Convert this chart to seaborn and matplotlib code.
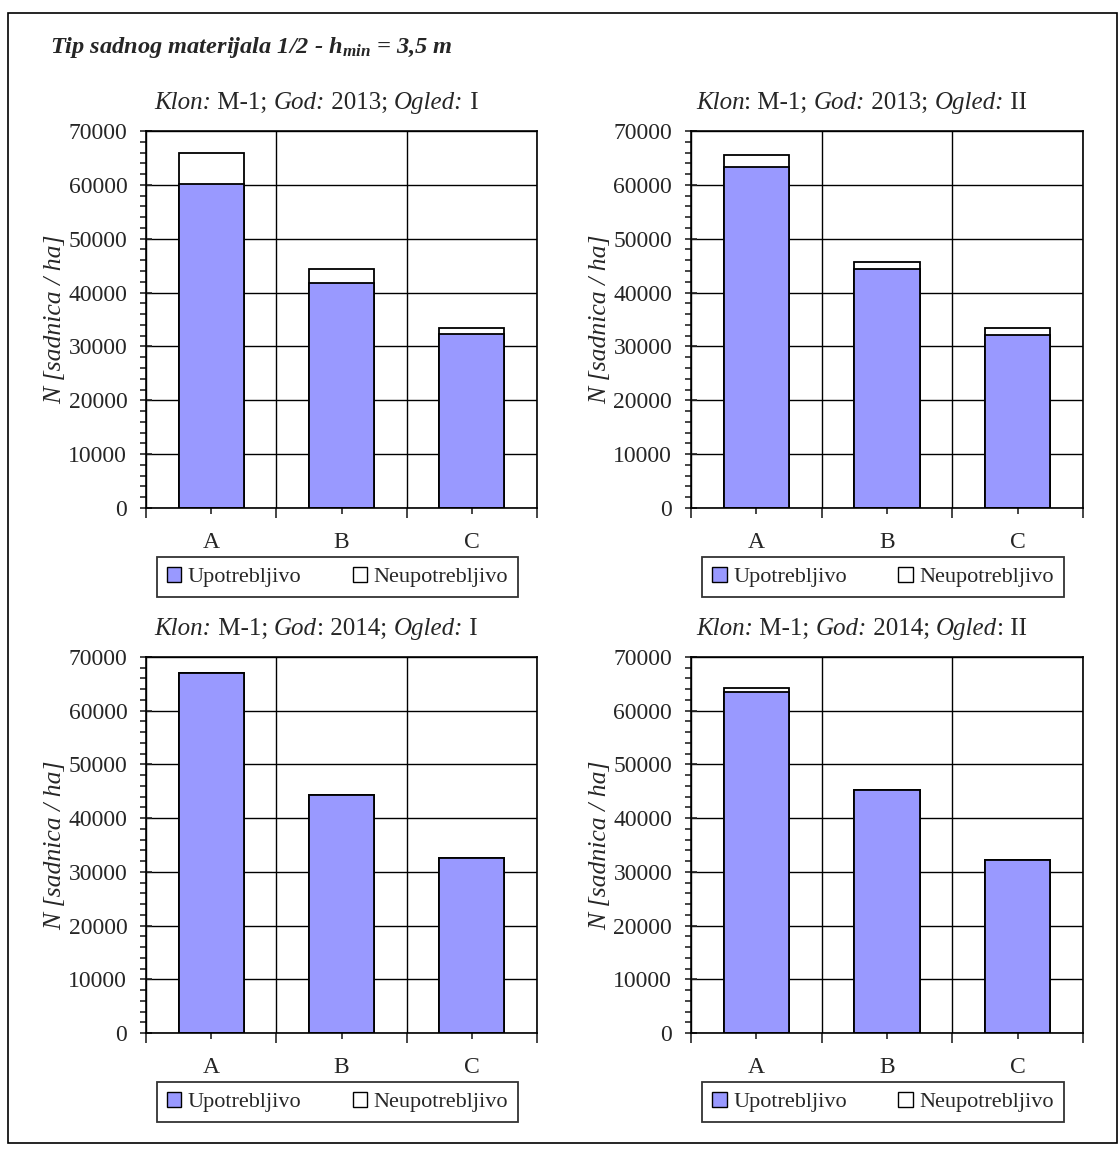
# Stacked bar charts - usable vs unusable seedlings
import numpy as np
import pandas as pd
import matplotlib
matplotlib.use("Agg")
import matplotlib.pyplot as plt
from matplotlib.patches import Rectangle, Patch
from matplotlib.ticker import MultipleLocator, FixedLocator
from matplotlib.offsetbox import TextArea, HPacker, AnchoredOffsetbox
import seaborn as sns

# Data
kategorije = ["A", "B", "C"]

upotrebljivo_2013_I = [60200, 41700, 32400]
neupotrebljivo_2013_I = [5700, 2600, 1100]

upotrebljivo_2013_II = [63400, 44300, 32100]
neupotrebljivo_2013_II = [2200, 1400, 1400]

upotrebljivo_2014_I = [67000, 44400, 32600]
neupotrebljivo_2014_I = [0, 0, 0]

upotrebljivo_2014_II = [63400, 45200, 32300]
neupotrebljivo_2014_II = [800, 0, 0]

# title pieces: (text, italic?)
naslovi = [
    [("Klon:", True), (" M-1; ", False), ("God:", True), (" 2013; ", False),
     ("Ogled:", True), (" I", False)],
    [("Klon", True), (": M-1; ", False), ("God:", True), (" 2013; ", False),
     ("Ogled:", True), (" II", False)],
    [("Klon:", True), (" M-1; ", False), ("God", True), (": 2014; ", False),
     ("Ogled:", True), (" I", False)],
    [("Klon:", True), (" M-1; ", False), ("God:", True), (" 2014; ", False),
     ("Ogled", True), (": II", False)],
]

# Style
sns.set_style("ticks")
plt.rcParams["font.family"] = ["Liberation Serif", "DejaVu Serif"]
plt.rcParams["mathtext.fontset"] = "custom"
plt.rcParams["mathtext.rm"] = "Liberation Serif:italic:bold"
plt.rcParams["mathtext.it"] = "Liberation Serif:italic:bold"
plt.rcParams["mathtext.bf"] = "Liberation Serif:italic:bold"

PLAVA = "#9999FF"

fig = plt.figure(figsize=(11.19, 11.55), dpi=100)

# outer frame
fig.patches.append(Rectangle((8 / 1119, 1 - 1143 / 1155), 1109 / 1119, 1130 / 1155,
                             transform=fig.transFigure, fill=False,
                             edgecolor="black", linewidth=1.2))

fig.text(50 / 1119, 1 - 48 / 1155,
         r"Tip sadnog materijala 1/2 - h$_{\mathbf{min}}$ = 3,5 m",
         fontsize=17.6, fontweight="bold", style="italic", va="center", ha="left")

pozicije = [
    [146 / 1119, 1 - 508 / 1155, 391 / 1119, 377 / 1155],
    [691 / 1119, 1 - 508 / 1155, 392 / 1119, 377 / 1155],
    [146 / 1119, 1 - 1033 / 1155, 391 / 1119, 376 / 1155],
    [691 / 1119, 1 - 1033 / 1155, 392 / 1119, 376 / 1155],
]
legend_y = [1 - 577 / 1155, 1 - 577 / 1155, 1 - 1102 / 1155, 1 - 1102 / 1155]

serije = [
    (upotrebljivo_2013_I, neupotrebljivo_2013_I),
    (upotrebljivo_2013_II, neupotrebljivo_2013_II),
    (upotrebljivo_2014_I, neupotrebljivo_2014_I),
    (upotrebljivo_2014_II, neupotrebljivo_2014_II),
]

for i, (upo, neupo) in enumerate(serije):
    ax = fig.add_axes(pozicije[i])
    df = pd.DataFrame({"Kategorija": kategorije,
                       "Upotrebljivo": upo,
                       "Neupotrebljivo": neupo})
    df["Ukupno"] = df["Upotrebljivo"] + df["Neupotrebljivo"]

    ax.set_axisbelow(True)
    sns.barplot(data=df, x="Kategorija", y="Ukupno", color="white",
                edgecolor="black", linewidth=1.3, width=0.5, saturation=1, ax=ax)
    sns.barplot(data=df, x="Kategorija", y="Upotrebljivo", color=PLAVA,
                edgecolor="black", linewidth=1.3, width=0.5, saturation=1, ax=ax)

    ax.set_xlim(-0.5, 2.5)
    ax.set_ylim(0, 70000)
    ax.yaxis.set_major_locator(MultipleLocator(10000))
    ax.yaxis.set_minor_locator(MultipleLocator(2000))
    ax.xaxis.set_minor_locator(FixedLocator([-0.5, 0.5, 1.5, 2.5]))

    ax.grid(axis="y", which="major", color="black", linewidth=1)
    ax.grid(axis="x", which="minor", color="black", linewidth=1)

    ax.tick_params(axis="y", which="major", direction="inout", length=9,
                   width=1.2, labelsize=17, pad=9)
    ax.tick_params(axis="y", which="minor", direction="out", length=4, width=1.2)
    ax.tick_params(axis="x", which="major", direction="out", length=4,
                   width=1.2, labelsize=17, pad=13)
    ax.tick_params(axis="x", which="minor", direction="out", length=7, width=1.2)

    for s in ax.spines.values():
        s.set_linewidth(1.2)
        s.set_color("black")

    ax.set_xlabel("")
    ax.set_ylabel("N [sadnica / ha]", fontsize=18.5, style="italic")
    ax.yaxis.set_label_coords(-80 / 391, 0.5)

    # mixed italic / upright title
    dijelovi = [TextArea(t, textprops=dict(fontsize=18,
                                           style="italic" if it else "normal"))
                for t, it in naslovi[i]]
    red = HPacker(children=dijelovi, align="baseline", pad=0, sep=0)
    naslov = AnchoredOffsetbox(loc="center", child=red, pad=0, borderpad=0,
                               frameon=False,
                               bbox_to_anchor=(0.435, 1 + 28 / 377),
                               bbox_transform=ax.transAxes)
    ax.add_artist(naslov)

    pos = pozicije[i]
    handles = [Patch(facecolor=PLAVA, edgecolor="black", linewidth=1),
               Patch(facecolor="white", edgecolor="black", linewidth=1)]
    leg = fig.legend(handles, ["Upotrebljivo", "Neupotrebljivo"],
                     loc="center", bbox_to_anchor=(pos[0] + pos[2] * 0.49, legend_y[i]),
                     ncol=2, fontsize=16, frameon=True, fancybox=False,
                     edgecolor="black", handlelength=0.65, handleheight=0.65,
                     handletextpad=0.3, columnspacing=2.3, borderpad=0.45,
                     borderaxespad=0)
    leg.get_frame().set_linewidth(1.3)

plt.savefig("out.png", dpi=100)
